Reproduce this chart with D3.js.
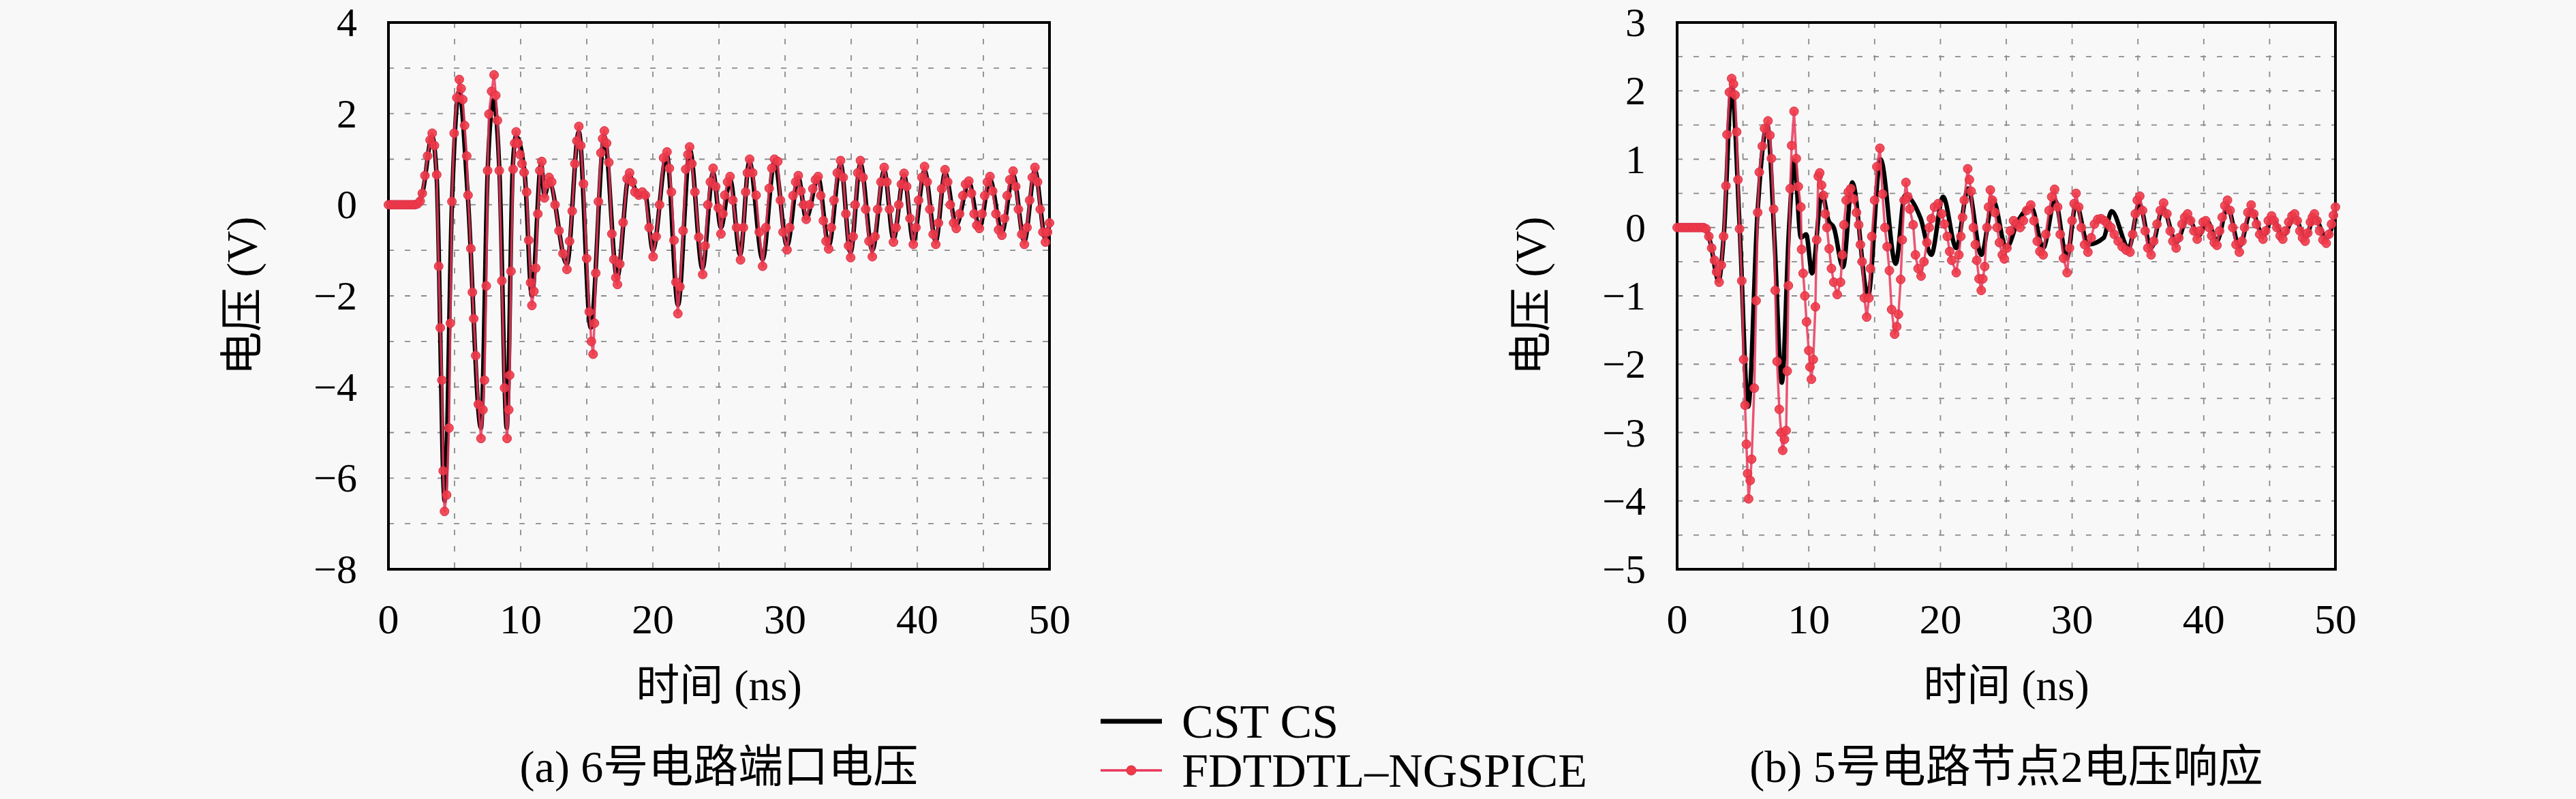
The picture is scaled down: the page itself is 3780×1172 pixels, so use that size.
<!DOCTYPE html>
<html>
<head>
<meta charset="utf-8">
<script src="https://cdn.jsdelivr.net/npm/d3@7/dist/d3.min.js"></script>
<style>
  html, body { margin: 0; padding: 0; background: #f8f8f8; }
  text { font-family: "Liberation Serif", "Noto Sans CJK SC", serif; fill: #000; }
</style>
</head>
<body>
<div id="chart"></div>
<script>
var W = 3780, H = 1172;

// tick labels
var timeTicks = [0, 10, 20, 30, 40, 50];
var timeGrid = [5, 10, 15, 20, 25, 30, 35, 40, 45];
var voltTicksA = [-8, -6, -4, -2, 0, 2, 4];
var voltGridA = [-7, -6, -5, -4, -3, -2, -1, 0, 1, 2, 3];
var voltTicksB = [-5, -4, -3, -2, -1, 0, 1, 2, 3];
var voltGridB = [-4.5, -4, -3.5, -3, -2.5, -2, -1.5, -1, -0.5, 0, 0.5, 1, 1.5, 2, 2.5];

var seriesNames = ["CST CS", "FDTDTL\u2013NGSPICE"];
var captions = ["(a) 6号电路端口电压", "(b) 5号电路节点2电压响应"];

// (a) CST CS, [t ns, V]
var cstA = [[0,0],[2.2,0],[2.6,0.3],[3.3,1.5],[3.65,0.6],[4.25,-6.5],[4.8,0],[5.35,2.5],[6.0,0.2],[7.0,-4.9],
  [7.5,0.7],[7.95,2.3],[8.4,0.7],[8.95,-4.9],[9.4,0.8],[9.65,1.5],[10.3,0.7],[10.85,-2.0],[11.55,0.9],[11.8,0.2],
  [12.15,0.5],[13.5,-1.3],[14.4,1.6],[15.3,-2.7],[16.33,1.5],[17.3,-1.6],[18.2,0.65],[18.9,0.2],[19.4,0.25],[20.0,-1.0],
  [21.05,1.1],[21.9,-2.2],[22.8,1.2],[23.75,-1.4],[24.55,0.7],[25.15,-0.5],[25.85,0.55],[26.6,-1.1],[27.3,0.95],[28.3,-1.2],
  [29.2,0.95],[30.15,-0.9],[31.0,0.6],[31.6,-0.3],[32.5,0.6],[33.3,-0.9],[34.2,0.9],[34.95,-1.05],[35.7,0.9],[36.6,-1.0],
  [37.5,0.75],[38.2,-0.75],[39.0,0.65],[39.7,-0.8],[40.55,0.75],[41.4,-0.8],[42.1,0.7],[42.95,-0.45],[43.9,0.5],[44.7,-0.5],
  [45.5,0.55],[46.4,-0.6],[47.25,0.65],[48.1,-0.8],[48.9,0.75],[49.7,-0.75],[50,-0.4]];

// (a) FDTDTL-NGSPICE, [t ns, V]
var fdtdA = [[0,0],[0.2,0],[0.4,0],[0.6,0],[0.8,0],[1.0,0],[1.2,0],[1.4,0],[1.6,0],[1.8,0],[2.0,0],[2.2,0.02],
  [2.4,0.08],[2.56,0.25],[2.76,0.64],[2.96,1.07],[3.15,1.42],[3.31,1.57],[3.48,1.3],[3.65,0.66],[3.8,-1.35],[3.92,-2.7],
  [4.04,-3.85],[4.14,-5.84],[4.24,-6.73],[4.4,-6.37],[4.58,-4.9],[4.68,-2.6],[4.8,0.07],[4.97,1.57],[5.17,2.35],[5.36,2.75],
  [5.5,2.55],[5.62,2.31],[5.76,1.74],[5.92,1.07],[6.02,0.21],[6.23,-0.96],[6.35,-1.92],[6.45,-2.5],[6.6,-3.31],[6.8,-4.38],
  [7.0,-5.13],[7.15,-4.5],[7.26,-3.85],[7.4,-1.78],[7.5,0.75],[7.6,1.99],[7.8,2.49],[7.99,2.85],[8.12,2.4],[8.24,1.85],
  [8.38,0.75],[8.58,-1.67],[8.78,-4.02],[8.97,-5.13],[9.1,-4.5],[9.17,-3.74],[9.27,-1.46],[9.43,0.78],[9.55,1.35],[9.66,1.6],
  [9.8,1.35],[9.96,1.1],[10.1,0.9],[10.26,0.71],[10.45,0.28],[10.61,-0.78],[10.75,-1.71],[10.85,-2.21],[11.0,-1.9],[11.14,-1.39],
  [11.3,-0.2],[11.45,0.75],[11.6,0.95],[11.8,0.15],[12.0,0.45],[12.15,0.6],[12.35,0.5],[12.6,0.0],[12.9,-0.57],[13.2,-1.07],
  [13.5,-1.42],[13.7,-0.8],[13.9,-0.14],[14.1,0.9],[14.25,1.4],[14.4,1.72],[14.55,1.3],[14.75,0.46],[14.99,-1.18],[15.19,-2.35],
  [15.35,-3.0],[15.48,-3.28],[15.58,-2.6],[15.68,-1.5],[15.88,0.07],[16.07,1.14],[16.2,1.45],[16.33,1.62],[16.5,1.35],[16.67,0.93],
  [16.9,-0.64],[17.05,-1.2],[17.2,-1.6],[17.32,-1.75],[17.5,-1.3],[17.75,-0.39],[18.05,0.57],[18.24,0.7],[18.45,0.5],[18.64,0.28],
  [18.93,0.21],[19.2,0.28],[19.43,0.21],[19.72,-0.5],[20.02,-1.14],[20.25,-0.7],[20.51,0.0],[20.81,1.03],[21.07,1.16],[21.25,0.8],
  [21.4,0.28],[21.6,-0.78],[21.75,-1.7],[21.89,-2.39],[22.05,-1.8],[22.29,-0.57],[22.49,0.78],[22.65,1.1],[22.78,1.27],[22.95,0.9],
  [23.18,0.28],[23.47,-0.71],[23.77,-1.53],[23.95,-0.9],[24.16,0.0],[24.35,0.5],[24.56,0.8],[24.75,0.4],[24.95,-0.07],[25.15,-0.64],
  [25.3,-0.2],[25.44,0.21],[25.65,0.5],[25.84,0.62],[26.05,0.1],[26.33,-0.5],[26.63,-1.21],[26.85,-0.5],[27.02,0.28],[27.15,0.7],
  [27.32,1.0],[27.55,0.7],[27.81,0.21],[28.05,-0.6],[28.3,-1.35],[28.55,-0.5],[28.8,0.36],[29.0,0.8],[29.2,1.0],[29.45,0.95],
  [29.65,0.1],[29.85,-0.6],[30.15,-0.99],[30.35,-0.5],[30.6,0.2],[30.8,0.5],[31.0,0.64],[31.2,0.3],[31.4,0.0],[31.6,-0.32],
  [31.85,0.0],[32.1,0.35],[32.3,0.55],[32.5,0.62],[32.7,0.2],[32.9,-0.35],[33.1,-0.8],[33.3,-0.97],[33.5,-0.5],[33.7,0.1],
  [33.95,0.7],[34.2,0.97],[34.4,0.6],[34.6,-0.2],[34.8,-0.9],[34.96,-1.16],[35.15,-0.7],[35.3,0.0],[35.5,0.7],[35.7,0.97],
  [35.9,0.6],[36.1,-0.1],[36.35,-0.8],[36.6,-1.14],[36.8,-0.7],[37.0,-0.1],[37.25,0.5],[37.5,0.82],[37.7,0.5],[37.9,-0.1],
  [38.2,-0.82],[38.4,-0.5],[38.6,0.0],[38.8,0.45],[39.0,0.69],[39.2,0.4],[39.45,-0.3],[39.7,-0.87],[39.9,-0.5],[40.1,0.1],
  [40.35,0.6],[40.55,0.84],[40.75,0.5],[40.95,-0.1],[41.2,-0.65],[41.4,-0.87],[41.6,-0.4],[41.85,0.35],[42.1,0.77],[42.3,0.5],
  [42.5,0.0],[42.75,-0.4],[42.95,-0.52],[43.2,-0.2],[43.45,0.2],[43.65,0.45],[43.9,0.52],[44.1,0.25],[44.3,-0.2],[44.5,-0.45],
  [44.7,-0.52],[44.9,-0.2],[45.1,0.2],[45.3,0.5],[45.5,0.62],[45.7,0.3],[45.95,-0.2],[46.15,-0.55],[46.4,-0.67],[46.6,-0.3],
  [46.8,0.2],[47.0,0.55],[47.25,0.74],[47.45,0.4],[47.65,-0.1],[47.9,-0.65],[48.1,-0.87],[48.3,-0.5],[48.5,0.1],[48.7,0.6],
  [48.9,0.82],[49.1,0.5],[49.3,-0.1],[49.5,-0.6],[49.7,-0.82],[49.85,-0.6],[50.0,-0.4]];

// (b) CST CS
var cstB = [[0,0],[2.1,0],[2.5,-0.2],[3.15,-0.78],[3.55,-0.1],[4.15,2.05],[4.75,0.0],[5.4,-2.62],[6.1,0.2],[6.85,1.5],
  [7.4,-0.2],[7.95,-2.27],[8.5,0.0],[8.9,0.98],[9.4,-0.15],[9.8,-0.1],[10.25,-0.67],[11.0,0.5],[11.5,0.1],[11.9,0.0],
  [12.6,-0.58],[13.3,0.66],[14.5,-1.0],[15.45,1.0],[16.6,-0.53],[17.3,0.47],[18.5,0.13],[19.3,-0.4],[20.2,0.45],[21.2,-0.3],
  [22.1,0.57],[23.1,-0.4],[24.0,0.4],[25.0,-0.3],[25.9,0.1],[26.9,0.3],[27.8,-0.3],[28.7,0.4],[29.6,-0.45],[30.3,0.35],
  [31.2,-0.25],[32.4,-0.15],[33.0,0.24],[34.3,-0.3],[35.1,0.35],[36.0,-0.3],[36.9,0.28],[37.9,-0.22],[38.8,0.15],[39.6,-0.12],
  [40.3,0.08],[41.0,-0.2],[41.8,0.3],[42.7,-0.28],[43.6,0.25],[44.5,-0.12],[45.2,0.12],[46.0,-0.12],[46.9,0.15],[47.7,-0.15],
  [48.4,0.15],[49.3,-0.15],[50,0.2]];

// (b) FDTDTL-NGSPICE
var fdtdB = [[0,0],[0.2,0],[0.4,0],[0.6,0],[0.8,0],[1.0,0],[1.2,0],[1.4,0],[1.6,0],[1.8,0],[2.0,0],[2.2,-0.02],
  [2.41,-0.13],[2.62,-0.3],[2.84,-0.48],[3.0,-0.65],[3.19,-0.8],[3.36,-0.55],[3.53,-0.13],[3.71,0.61],[3.79,1.36],[3.97,1.98],
  [4.14,2.18],[4.28,2.1],[4.4,1.94],[4.52,1.4],[4.62,0.7],[4.74,-0.02],[4.91,-0.78],[5.05,-1.93],[5.16,-2.6],[5.26,-3.17],
  [5.35,-3.6],[5.43,-3.97],[5.55,-3.7],[5.66,-3.39],[5.86,-2.35],[6.0,-1.07],[6.12,0.22],[6.24,0.81],[6.47,1.19],[6.64,1.45],
  [6.9,1.56],[7.05,1.35],[7.16,1.01],[7.33,0.27],[7.45,-0.92],[7.59,-1.96],[7.76,-2.66],[7.9,-3.0],[8.02,-3.26],[8.15,-3.1],
  [8.28,-2.97],[8.36,-2.1],[8.45,-0.85],[8.59,0.57],[8.7,1.2],[8.88,1.7],[9.05,1.01],[9.2,0.6],[9.4,0.3],[9.45,-0.32],
  [9.57,-0.67],[9.7,-1.0],[9.83,-1.38],[10.0,-1.8],[10.09,-2.04],[10.2,-2.22],[10.34,-1.93],[10.5,-1.16],[10.6,-0.18],[10.72,0.75],
  [10.83,0.8],[10.97,0.62],[11.12,0.47],[11.25,0.2],[11.38,0],[11.55,-0.31],[11.72,-0.6],[11.9,-0.8],[12.16,-0.98],[12.41,-0.8],
  [12.55,-0.4],[12.67,0.04],[12.84,0.4],[13.0,0.52],[13.19,0.57],[13.4,0.42],[13.62,0.22],[13.79,0.04],[13.92,-0.25],[14.05,-0.5],
  [14.22,-1.03],[14.4,-1.31],[14.57,-1.03],[14.68,-0.6],[14.79,-0.13],[15.0,0.4],[15.17,0.89],[15.4,1.16],[15.6,0.49],[15.78,0],
  [15.95,-0.28],[16.12,-0.63],[16.29,-1.2],[16.52,-1.56],[16.68,-1.45],[16.81,-1.27],[16.98,-0.76],[17.1,-0.18],[17.24,0.4],[17.38,0.66],
  [17.52,0.45],[17.67,0.27],[17.93,0.04],[18.1,-0.4],[18.3,-0.6],[18.53,-0.71],[18.75,-0.5],[18.97,-0.22],[19.15,0.0],[19.31,0.13],
  [19.55,0.3],[19.83,0.35],[20.1,0.2],[20.3,0.05],[20.52,-0.13],[20.7,-0.35],[20.86,-0.48],[21.2,-0.66],[21.4,-0.4],[21.55,-0.13],
  [21.68,0.15],[21.81,0.4],[22.07,0.86],[22.2,0.7],[22.33,0.53],[22.5,0],[22.65,-0.25],[22.76,-0.48],[22.93,-0.75],[23.1,-0.92],
  [23.22,-0.75],[23.36,-0.57],[23.53,0],[23.65,0.3],[23.79,0.55],[23.95,0.4],[24.14,0.22],[24.3,0.0],[24.48,-0.22],[24.7,-0.4],
  [24.85,-0.46],[25.05,-0.3],[25.3,-0.05],[25.55,0.1],[25.8,0.05],[26.05,0.0],[26.3,0.1],[26.55,0.25],[26.86,0.33],[27.1,0.1],
  [27.35,-0.2],[27.55,-0.35],[27.8,-0.4],[28.0,-0.1],[28.25,0.25],[28.45,0.45],[28.67,0.56],[28.9,0.3],[29.1,-0.1],[29.35,-0.45],
  [29.62,-0.66],[29.8,-0.3],[30.0,0.1],[30.15,0.35],[30.3,0.5],[30.5,0.3],[30.7,0.0],[30.95,-0.25],[31.2,-0.36],[31.45,-0.15],
  [31.7,0.05],[31.95,0.12],[32.2,0.13],[32.45,0.1],[32.7,0.05],[32.95,0.0],[33.2,-0.1],[33.5,-0.2],[33.8,-0.28],[34.1,-0.33],
  [34.4,-0.36],[34.6,-0.1],[34.8,0.2],[34.95,0.4],[35.14,0.46],[35.35,0.25],[35.55,-0.05],[35.75,-0.3],[36.0,-0.4],[36.2,-0.2],
  [36.45,0.05],[36.7,0.25],[36.95,0.36],[37.2,0.2],[37.45,-0.05],[37.65,-0.2],[37.9,-0.3],[38.1,-0.15],[38.35,0.05],[38.55,0.15],
  [38.77,0.2],[39.0,0.1],[39.25,-0.05],[39.5,-0.17],[39.7,-0.05],[39.95,0.08],[40.15,0.1],[40.4,0.0],[40.6,-0.12],[40.8,-0.22],
  [41.0,-0.26],[41.2,-0.05],[41.4,0.15],[41.6,0.32],[41.8,0.4],[42.0,0.25],[42.2,0.0],[42.45,-0.25],[42.7,-0.36],[42.9,-0.2],
  [43.1,0.0],[43.35,0.22],[43.6,0.33],[43.8,0.2],[44.0,0.05],[44.25,-0.1],[44.5,-0.17],[44.7,-0.05],[44.9,0.1],[45.15,0.17],
  [45.35,0.1],[45.55,0.0],[45.8,-0.12],[46.0,-0.17],[46.2,-0.05],[46.45,0.08],[46.7,0.17],[46.9,0.2],[47.1,0.1],[47.3,-0.05],
  [47.5,-0.15],[47.7,-0.2],[47.9,-0.08],[48.1,0.08],[48.25,0.15],[48.4,0.2],[48.6,0.1],[48.8,-0.05],[49.05,-0.18],[49.3,-0.23],
  [49.5,-0.1],[49.7,0.05],[49.85,0.18],[50.0,0.3]];

var RED_LINE = "#e8385a", RED_DOT = "#ef3a48";

var svg = d3.select("#chart").append("svg")
  .attr("width", W).attr("height", H)
  .attr("viewBox", "0 0 " + W + " " + H);

svg.append("rect").attr("width", W).attr("height", H).attr("fill", "#f8f8f8");

function drawPanel(p) {
  var x = d3.scaleLinear().domain([0, 50]).range([p.left, p.left + p.width]);
  var y = d3.scaleLinear().domain(p.yDomain).range([p.top + p.height, p.top]);
  var g = svg.append("g");

  // grid
  g.selectAll(".gx").data(timeGrid).enter().append("line")
    .attr("x1", function(d) { return x(d); }).attr("x2", function(d) { return x(d); })
    .attr("y1", p.top).attr("y2", p.top + p.height)
    .attr("stroke", "#8a8a8a").attr("stroke-width", 1.8).attr("stroke-dasharray", "8,16");
  g.selectAll(".gy").data(p.yGrid).enter().append("line")
    .attr("y1", function(d) { return y(d); }).attr("y2", function(d) { return y(d); })
    .attr("x1", p.left).attr("x2", p.left + p.width)
    .attr("stroke", "#8a8a8a").attr("stroke-width", 1.8).attr("stroke-dasharray", "8,16");

  // frame
  g.append("rect").attr("x", p.left).attr("y", p.top)
    .attr("width", p.width).attr("height", p.height)
    .attr("fill", "none").attr("stroke", "#000").attr("stroke-width", 4);

  // tick labels
  g.selectAll(".tx").data(timeTicks).enter().append("text")
    .attr("x", function(d) { return x(d); }).attr("y", p.top + p.height + 94)
    .attr("text-anchor", "middle").attr("font-size", 62)
    .text(function(d) { return d; });
  g.selectAll(".ty").data(p.yTicks).enter().append("text")
    .attr("x", p.left - 46).attr("y", function(d) { return y(d) + 20; })
    .attr("text-anchor", "end").attr("font-size", 60)
    .text(function(d) { return d < 0 ? "\u2212" + Math.abs(d) : d; });

  // axis titles
  g.append("text").attr("x", p.left + p.width / 2).attr("y", 1027)
    .attr("text-anchor", "middle").attr("font-size", 64).text("时间 (ns)");
  g.append("text")
    .attr("transform", "translate(" + (p.left - 215) + "," + (p.top + p.height / 2) + ") rotate(-90)")
    .attr("text-anchor", "middle").attr("dy", "0.35em").attr("font-size", 64).text("电压 (V)");
  g.append("text").attr("x", p.left + p.width / 2).attr("y", 1147)
    .attr("text-anchor", "middle").attr("font-size", 66).text(p.caption);

  // CST CS
  var cstLine = d3.line().x(function(d) { return x(d[0]); }).y(function(d) { return y(d[1]); })
    .curve(d3.curveMonotoneX);
  g.append("path").datum(p.cst).attr("d", cstLine)
    .attr("fill", "none").attr("stroke", "#000").attr("stroke-width", 6.5)
    .attr("stroke-linejoin", "round");

  // FDTDTL-NGSPICE
  var redLine = d3.line().x(function(d) { return x(d[0]); }).y(function(d) { return y(d[1]); });
  g.append("path").datum(p.fdtd).attr("d", redLine)
    .attr("fill", "none").attr("stroke", RED_LINE).attr("stroke-width", 3.5)
    .attr("stroke-opacity", 0.85).attr("stroke-linejoin", "round");
  g.selectAll(".dot").data(p.fdtd).enter().append("circle")
    .attr("cx", function(d) { return x(d[0]); }).attr("cy", function(d) { return y(d[1]); })
    .attr("r", 6.5).attr("fill", RED_DOT).attr("fill-opacity", 0.9)
    .attr("stroke", "#d8304a").attr("stroke-width", 1);
}

drawPanel({ left: 570, top: 33, width: 970, height: 802, yDomain: [-8, 4],
  yTicks: voltTicksA, yGrid: voltGridA, cst: cstA, fdtd: fdtdA, caption: captions[0] });
drawPanel({ left: 2461, top: 33, width: 966, height: 802, yDomain: [-5, 3],
  yTicks: voltTicksB, yGrid: voltGridB, cst: cstB, fdtd: fdtdB, caption: captions[1] });

// legend
var lg = svg.append("g");
lg.append("line").attr("x1", 1615).attr("x2", 1705).attr("y1", 1058).attr("y2", 1058)
  .attr("stroke", "#000").attr("stroke-width", 7);
lg.append("text").attr("x", 1734).attr("y", 1082).attr("font-size", 70).text(seriesNames[0]);
lg.append("line").attr("x1", 1615).attr("x2", 1705).attr("y1", 1130).attr("y2", 1130)
  .attr("stroke", RED_LINE).attr("stroke-width", 3.5);
lg.append("circle").attr("cx", 1660).attr("cy", 1130).attr("r", 7)
  .attr("fill", RED_DOT).attr("stroke", "#d8304a").attr("stroke-width", 1);
lg.append("text").attr("x", 1734).attr("y", 1154).attr("font-size", 70).text(seriesNames[1]);
</script>
</body>
</html>
